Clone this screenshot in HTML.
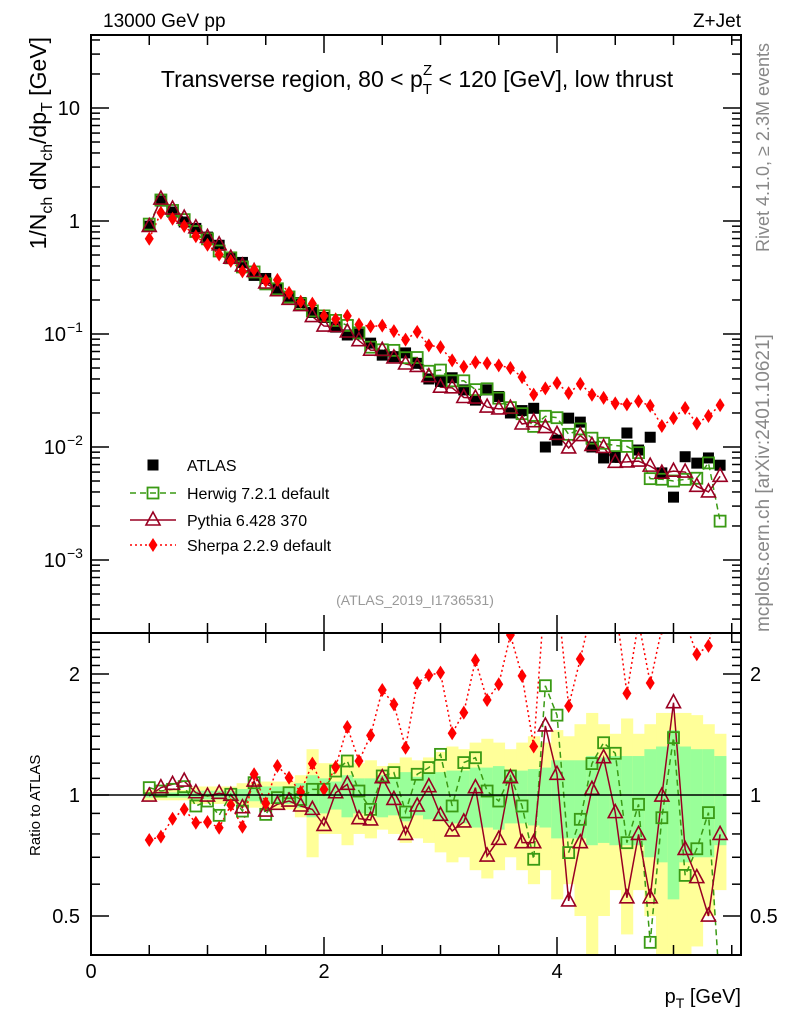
<!DOCTYPE html>
<html><head><meta charset="utf-8"><style>
body{margin:0;background:#fff}
svg{display:block;font-family:"Liberation Sans",sans-serif}
</style></head><body>
<svg id="chart" width="786" height="1024" viewBox="0 0 786 1024" xmlns="http://www.w3.org/2000/svg">
<defs>
<clipPath id="cm"><rect x="91" y="35" width="650" height="598"/></clipPath>
<clipPath id="cr"><rect x="91" y="633" width="650" height="322"/></clipPath>
</defs>
<g id="bands" clip-path="url(#cr)"></g>
<g id="ratio" clip-path="url(#cr)"></g>
<g id="main" clip-path="url(#cm)"></g>
<g id="axes"></g>
<rect x="91" y="35" width="650" height="598" fill="none" stroke="#000" stroke-width="2"/>
<rect x="91" y="633" width="650" height="322" fill="none" stroke="#000" stroke-width="2"/>
<line x1="91" y1="795" x2="741" y2="795" stroke="#000" stroke-width="1.5"/>
<text x="103" y="27" font-size="19">13000 GeV pp</text>
<text x="741" y="27" font-size="19" text-anchor="end">Z+Jet</text>
<text x="417" y="87" font-size="23" text-anchor="middle">Transverse region, 80 &lt; p<tspan font-size="15" dy="7">T</tspan><tspan font-size="15" dx="-9" dy="-19">Z</tspan><tspan dy="12"> &lt; 120 [GeV], low thrust</tspan></text>
<text x="415" y="605" font-size="14" fill="#999" text-anchor="middle">(ATLAS_2019_I1736531)</text>
<text transform="translate(769,252) rotate(-90)" font-size="18" fill="#888">Rivet 4.1.0, ≥ 2.3M events</text>
<text transform="translate(769,632) rotate(-90)" font-size="19" fill="#888">mcplots.cern.ch [arXiv:2401.10621]</text>
<text transform="translate(46,37) rotate(-90)" font-size="23" text-anchor="end">1/N<tspan font-size="16" dy="6">ch</tspan><tspan dy="-6"> dN</tspan><tspan font-size="16" dy="6">ch</tspan><tspan dy="-6">/dp</tspan><tspan font-size="16" dy="6">T</tspan><tspan dy="-6"> [GeV]</tspan></text>
<text transform="translate(40,856) rotate(-90)" font-size="15">Ratio to ATLAS</text>
<text x="741" y="1003" font-size="20" text-anchor="end">p<tspan font-size="14" dy="5">T</tspan><tspan dy="-5"> [GeV]</tspan></text>
<g id="legend"></g>
<script>
const xVals=[0.5,0.6,0.7,0.8,0.9,1.0,1.1,1.2,1.3,1.4,1.5,1.6,1.7,1.8,1.9,2.0,2.1,2.2,2.3,2.4,2.5,2.6,2.7,2.8,2.9,3.0,3.1,3.2,3.3,3.4,3.5,3.6,3.7,3.8,3.9,4.0,4.1,4.2,4.3,4.4,4.5,4.6,4.7,4.8,4.9,5.0,5.1,5.2,5.3,5.4];
const atlasVals=[0.9,1.5,1.2,0.98,0.86,0.72,0.61,0.47,0.43,0.33,0.31,0.255,0.21,0.19,0.155,0.14,0.115,0.098,0.1,0.083,0.065,0.063,0.068,0.055,0.04,0.038,0.041,0.032,0.026,0.032,0.028,0.02,0.021,0.022,0.01,0.0115,0.018,0.0166,0.01,0.008,0.0081,0.0133,0.0094,0.0122,0.0059,0.0036,0.0082,0.0072,0.008,0.0069];
const herwigRatio=[1.043,1.023,1.033,1.049,0.939,0.966,0.89,1.004,0.912,1.073,0.895,0.985,1.013,0.975,1.033,1.033,1.147,1.215,1.023,0.921,1.115,1.137,0.907,1.126,1.17,1.262,0.939,1.204,1.238,1.023,0.966,1.115,0.939,0.692,1.87,1.58,0.719,0.87,1.197,1.349,1.27,0.761,0.948,0.43,0.878,1.389,0.631,0.735,0.904,0.32];
const pythiaRatio=[0.994,1.043,1.063,1.083,1.013,0.994,1.01,0.998,0.93,1.083,0.912,0.948,0.966,0.939,0.921,0.84,1.013,1.063,0.873,0.867,1.104,0.975,0.798,0.939,1.049,0.89,0.814,0.857,1.043,0.705,0.776,1.104,0.761,0.761,1.485,1.126,0.545,0.761,1.033,1.238,0.904,0.555,0.798,0.555,0.994,1.697,0.732,0.623,0.5,0.798];
const sherpaRatio=[0.773,0.788,0.873,0.921,0.853,0.857,0.829,0.944,0.834,1.126,0.953,1.181,1.104,1.017,1.197,1.033,1.174,1.476,1.215,1.407,1.825,1.681,1.311,1.9,1.985,2.016,1.424,1.603,2.163,1.723,1.886,2.5,1.978,1.32,3.3,3.2,1.665,2.18,2.9,3.4,3.0,1.79,2.7,1.9,2.6,5.0,2.7,2.24,2.35,3.4];
const statErr=[0.015,0.015,0.015,0.015,0.025,0.025,0.025,0.025,0.035,0.035,0.05,0.05,0.05,0.07,0.12,0.1,0.08,0.12,0.1,0.1,0.12,0.11,0.14,0.11,0.13,0.14,0.15,0.15,0.17,0.17,0.18,0.15,0.15,0.16,0.17,0.22,0.22,0.22,0.25,0.24,0.25,0.25,0.25,0.3,0.32,0.45,0.32,0.3,0.3,0.25];
const totErr=[0.03,0.03,0.03,0.03,0.05,0.05,0.05,0.05,0.07,0.07,0.08,0.08,0.08,0.12,0.3,0.2,0.2,0.25,0.2,0.22,0.18,0.2,0.24,0.22,0.24,0.28,0.32,0.3,0.35,0.38,0.35,0.3,0.35,0.4,0.35,0.45,0.4,0.5,0.6,0.5,0.42,0.55,0.42,0.5,0.6,0.6,0.6,0.58,0.5,0.42];
const binWidth=0.1;
const xTicks=[0,2,4];
const mainTicks=[10,1,0.1,0.01,0.001];
const ratioTicks=[2,1,0.5];

const NS='http://www.w3.org/2000/svg';
const X=v=>91+v*116.5;
const Y=v=>221-113*Math.log10(v);
const R=v=>795-402*Math.log10(v);
function mk(tag,attrs,parent){const e=document.createElementNS(NS,tag);for(const k in attrs)e.setAttribute(k,attrs[k]);parent.appendChild(e);return e;}
const gB=document.getElementById('bands'),gR=document.getElementById('ratio'),gM=document.getElementById('main'),gA=document.getElementById('axes'),gL=document.getElementById('legend');

xVals.forEach((x,i)=>{
  const x0=X(x-binWidth/2),w=X(x+binWidth/2)-x0;
  let r=mk('rect',{x:x0,y:R(1+totErr[i]),width:w+0.5,height:R(Math.max(1-totErr[i],0.05))-R(1+totErr[i]),fill:'#ffff99'},gB);
  
  
  let g=mk('rect',{x:x0,y:R(1+statErr[i]),width:w+0.5,height:R(1-statErr[i])-R(1+statErr[i]),fill:'#99ff99'},gB);
  
  
});

function marker(type,cx,cy,parent,name){
  let e;
  if(type==='sq') e=mk('rect',{x:cx-5.5,y:cy-5.5,width:11,height:11,fill:'#000'},parent);
  else if(type==='osq') e=mk('rect',{x:cx-5.5,y:cy-5.5,width:11,height:11,fill:'#fff','fill-opacity':0,stroke:'#3a9a14','stroke-width':1.8},parent);
  else if(type==='tri') e=mk('polygon',{points:`${cx},${cy-8} ${cx-7},${cy+5} ${cx+7},${cy+5}`,fill:'none',stroke:'#990022','stroke-width':1.6},parent);
  else e=mk('polygon',{points:`${cx},${cy-7} ${cx+4.5},${cy} ${cx},${cy+7} ${cx-4.5},${cy}`,fill:'#ff0000'},parent);
  
  
}
const series=[
 {r:herwigRatio,type:'osq',color:'#3a9a14',dash:'6,4',w:1.5,name:'herwig'},
 {r:pythiaRatio,type:'tri',color:'#990022',dash:'',w:1.5,name:'pythia'},
 {r:sherpaRatio,type:'dia',color:'#ff0000',dash:'2,3',w:1.5,name:'sherpa'}
];
series.forEach(s=>{
  const pm=xVals.map((x,i)=>`${X(x)},${Y(atlasVals[i]*s.r[i])}`).join(' ');
  let l=mk('polyline',{points:pm,fill:'none',stroke:s.color,'stroke-width':s.w,'stroke-dasharray':s.dash},gM);
  
  
  const pr=xVals.map((x,i)=>`${X(x)},${R(s.r[i])}`).join(' ');
  let lr=mk('polyline',{points:pr,fill:'none',stroke:s.color,'stroke-width':s.w,'stroke-dasharray':s.dash},gR);
  
  
});
xVals.forEach((x,i)=>marker('sq',X(x),Y(atlasVals[i]),gM,'atlas-point'));
series.forEach(s=>{
  xVals.forEach((x,i)=>{
    marker(s.type,X(x),Y(atlasVals[i]*s.r[i]),gM,s.name+'-point');
    marker(s.type,X(x),R(s.r[i]),gR,s.name+'-ratio-point');
  });
});

function ln(x1,y1,x2,y2,name){let e=mk('line',{x1,y1,x2,y2,stroke:'#000','stroke-width':1.5},gA);}
function tx(x,y,s,anchor,size,name){let e=mk('text',{x,y,'font-size':size,'text-anchor':anchor},gA);e.textContent=s;return e;}
for(let v=0;v<=5.5;v+=0.5){
  const major=Math.abs(v%2)<1e-6, len=major?18:10;
  ln(X(v),633,X(v),633-len,'x-tick');ln(X(v),35,X(v),35+len,'x-tick');
  ln(X(v),955,X(v),955-len,'x-tick');ln(X(v),633,X(v),633+len,'x-tick');
}
xTicks.forEach(v=>tx(X(v),978,String(v),'middle',20,'x-tick-label'));
for(let d=-4;d<=1;d++){
  for(let m=1;m<10;m++){
    const v=m*Math.pow(10,d),y=Y(v);
    if(y<35||y>633)continue;
    const len=m===1?18:9;
    ln(91,y,91+len,y,'y-tick');ln(741,y,741-len,y,'y-tick');
  }
}
mainTicks.forEach(v=>{
  const y=Y(v)+7,e=Math.round(Math.log10(v));
  if(e===1)tx(80,y,'10','end',20,'y-tick-label');
  else if(e===0)tx(80,y,'1','end',20,'y-tick-label');
  else{const t=tx(66,y,'10','end',20,'y-tick-label');const s=mk('tspan',{x:67,dy:-9,'font-size':14,'text-anchor':'start'},t);s.textContent='−'+(-e);}
});
for(let v=0.4;v<=2.5;v+=0.1){
  const y=R(v);if(y<633||y>955)continue;
  const major=[0.5,1,2].some(m=>Math.abs(m-v)<1e-6);
  const len=major?18:9;
  ln(91,y,91+len,y,'ratio-y-tick');ln(741,y,741-len,y,'ratio-y-tick');
}
ratioTicks.forEach(v=>{tx(80,R(v)+7,String(v),'end',20,'ratio-tick-label');tx(750,R(v)+7,String(v),'start',20,'ratio-tick-label-right');});

const legY=[465,493,520,545];
const legTxt=['ATLAS','Herwig 7.2.1 default','Pythia 6.428 370','Sherpa 2.2.9 default'];
marker('sq',153,legY[0],gL,'legend-atlas-marker');
[[series[0],1],[series[1],2],[series[2],3]].forEach(([s,k])=>{
  let l=mk('line',{x1:130,y1:legY[k],x2:176,y2:legY[k],stroke:s.color,'stroke-width':1.5,'stroke-dasharray':s.dash},gL);
  
  
  marker(s.type,153,legY[k],gL,'legend-'+s.name+'-marker');
});
legTxt.forEach((t,k)=>{let e=mk('text',{x:187,y:legY[k]+6,'font-size':16},gL);e.textContent=t;});
</script>
</svg>
</body></html>
